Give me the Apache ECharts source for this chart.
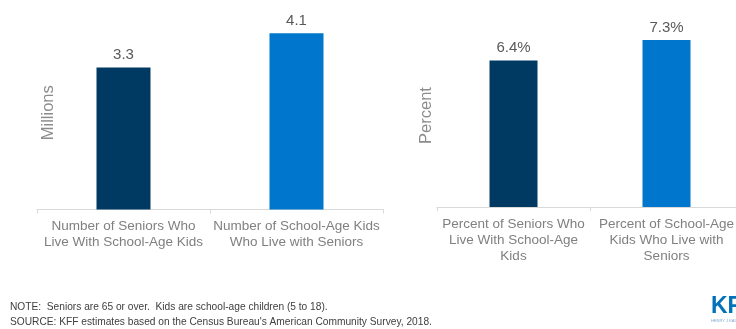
<!DOCTYPE html>
<html>
<head>
<meta charset="utf-8">
<script src="https://cdn.jsdelivr.net/npm/echarts@6/dist/echarts.min.js"></script>
<style>html,body{margin:0;padding:0;background:#fff;}#c{width:736px;height:329px;}</style>
</head>
<body>
<div id="c"></div>
<script>
const leftCategories = ["Number of Seniors Who\nLive With School-Age Kids", "Number of School-Age Kids\nWho Live with Seniors"];
const leftValues = [3.3, 4.1];
const rightCategories = ["Percent of Seniors Who\nLive With School-Age\nKids", "Percent of School-Age\nKids Who Live with\nSeniors"];
const rightValues = [6.4, 7.3];
const barColors = ["#003a63", "#0077cc"];
const leftAxisName = "Millions";
const rightAxisName = "Percent";
const noteText = "NOTE:  Seniors are 65 or over.  Kids are school-age children (5 to 18).";
const sourceText = "SOURCE: KFF estimates based on the Census Bureau's American Community Survey, 2018.";

const chart = echarts.init(document.getElementById('c'), null, {renderer: 'canvas'});
const font = "'Liberation Sans', Arial, sans-serif";
const catLabel = {color: '#808080', fontSize: 13.5, fontFamily: font, lineHeight: 16, margin: 9, interval: 0};
const axisLine = {show: true, lineStyle: {color: '#d9d9d9', width: 1}};
const axisTick = {show: true, length: 4, lineStyle: {color: '#d9d9d9'}};
const valLabelStyle = {show: true, position: 'top', distance: 5, color: '#595959', fontSize: 15, fontFamily: font};

function yAx(idx, max, name, gap) {
  return {
    type: 'value', gridIndex: idx, min: 0, max: max,
    axisLine: {show: false}, axisTick: {show: false}, axisLabel: {show: false}, splitLine: {show: false},
    name: name, nameLocation: 'middle', nameRotate: 90, nameGap: gap,
    nameTextStyle: {color: '#8c8c8c', fontSize: 16.5, fontFamily: font}
  };
}

chart.setOption({
  animation: false,
  backgroundColor: '#fff',
  grid: [
    {left: 37, width: 346, top: 16, height: 193.5, containLabel: false, outerBoundsMode: 'none'},
    {left: 437, width: 306, top: 24, height: 183, containLabel: false, outerBoundsMode: 'none'}
  ],
  xAxis: [
    {type: 'category', gridIndex: 0, data: leftCategories, axisLine: axisLine, axisTick: axisTick, axisLabel: catLabel},
    {type: 'category', gridIndex: 1, data: rightCategories, axisLine: axisLine, axisTick: axisTick, axisLabel: catLabel}
  ],
  yAxis: [
    yAx(0, 4.5, leftAxisName, -20),
    yAx(1, 8, rightAxisName, 2)
  ],
  series: [
    {
      type: 'bar', xAxisIndex: 0, yAxisIndex: 0, barWidth: 54,
      data: leftValues.map((v, i) => ({value: v, itemStyle: {color: barColors[i]}})),
      label: Object.assign({}, valLabelStyle, {formatter: p => p.value.toFixed(1)})
    },
    {
      type: 'bar', xAxisIndex: 1, yAxisIndex: 1, barWidth: 48,
      data: rightValues.map((v, i) => ({value: v, itemStyle: {color: barColors[i]}})),
      label: Object.assign({}, valLabelStyle, {formatter: p => p.value.toFixed(1) + '%'})
    }
  ],
  graphic: [
    {type: 'text', left: 10, top: 302, style: {text: noteText, fill: '#404040', fontSize: 10.2, fontFamily: font}},
    {type: 'text', left: 10, top: 317, style: {text: sourceText, fill: '#404040', fontSize: 10.2, fontFamily: font}},
    {type: 'text', left: 711, top: 295, style: {text: 'KFF', fill: '#0072bc', fontSize: 23, fontWeight: 'bold', fontFamily: font}},
    {type: 'text', left: 711, top: 319, style: {text: 'HENRY J KAISER FAMILY FOUNDATION', fill: '#7fa9d0', fontSize: 4, fontFamily: font}}
  ]
});
</script>
</body>
</html>
